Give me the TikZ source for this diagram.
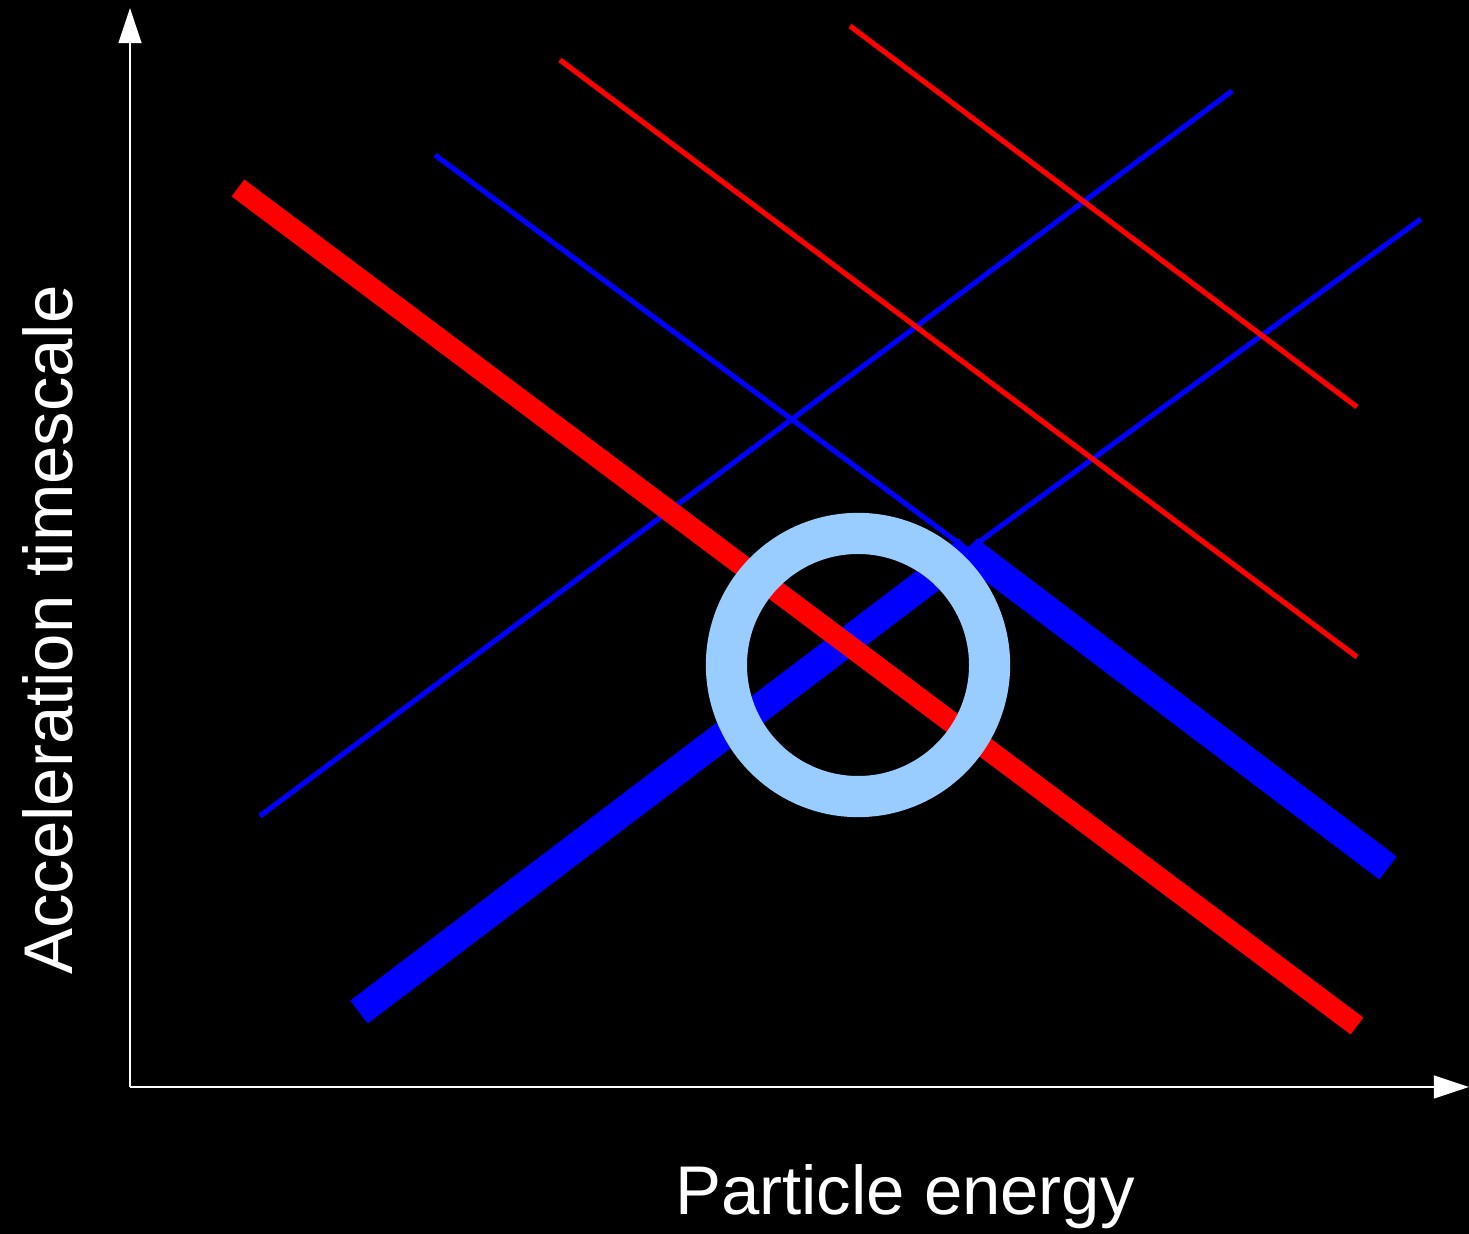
\documentclass[tikz,border=0pt]{standalone}
\usepackage{fontspec}
\setmainfont{Liberation Sans}
\usetikzlibrary{arrows.meta}
\definecolor{crojo}{HTML}{FF0000}
\definecolor{cazul}{HTML}{0000FF}
\definecolor{ccielo}{HTML}{99CCFF}
\tikzset{
  fina/.style={line width=1.45pt},
  gruesar/.style={draw=crojo, line width=6pt},
  gruesaa/.style={draw=cazul, line width=8.2pt},
  anillo/.style={circle, draw=ccielo, line width=11.7pt, minimum size=2.63cm, inner sep=0pt},
  eje/.style={draw=white, line width=0.6pt, -{Triangle[length=10pt,width=6.5pt]}},
  etq/.style={text=white, font=\fontsize{19.6pt}{22pt}\selectfont, inner sep=0pt},
}
\begin{document}
\begin{tikzpicture}[x=0.01cm, y=-0.01cm]
  \fill[black] (0,0) rectangle (1469,1234);
  \useasboundingbox (0,0) rectangle (1469,1234);
  % ejes
  \coordinate (origen) at (130,1087);
  \coordinate (ytop) at (130,8);
  \coordinate (xfin) at (1469,1087);
  \draw[eje] (origen) -- (ytop);
  \draw[eje] (origen) -- (xfin);
  \node[etq, rotate=90, anchor=base] (ylab) at (72,630) {Acceleration timescale};
  \node[etq, anchor=base] (xlab) at (905,1215) {Particle energy};
  % cruce de las lineas azules
  \coordinate (cruce) at (968,550);
  % lineas finas
  \draw[fina, cazul] (260,816) -- (1232,91);
  \draw[fina, cazul] (435,155) -- (cruce);
  \draw[fina, cazul] (1421,219) -- (cruce);
  \draw[fina, crojo] (560,60) -- (1357,657);
  \draw[fina, crojo] (850,26) -- (1357,407);
  % lineas gruesas
  \draw[gruesaa] (359,1012) -- (cruce);
  \draw[gruesaa] (cruce) -- (1388,868);
  \draw[gruesar] (238,188) -- (1357,1026);
  % anillo
  \node[anillo] (circ) at (858,665) {};
\end{tikzpicture}
\end{document}
